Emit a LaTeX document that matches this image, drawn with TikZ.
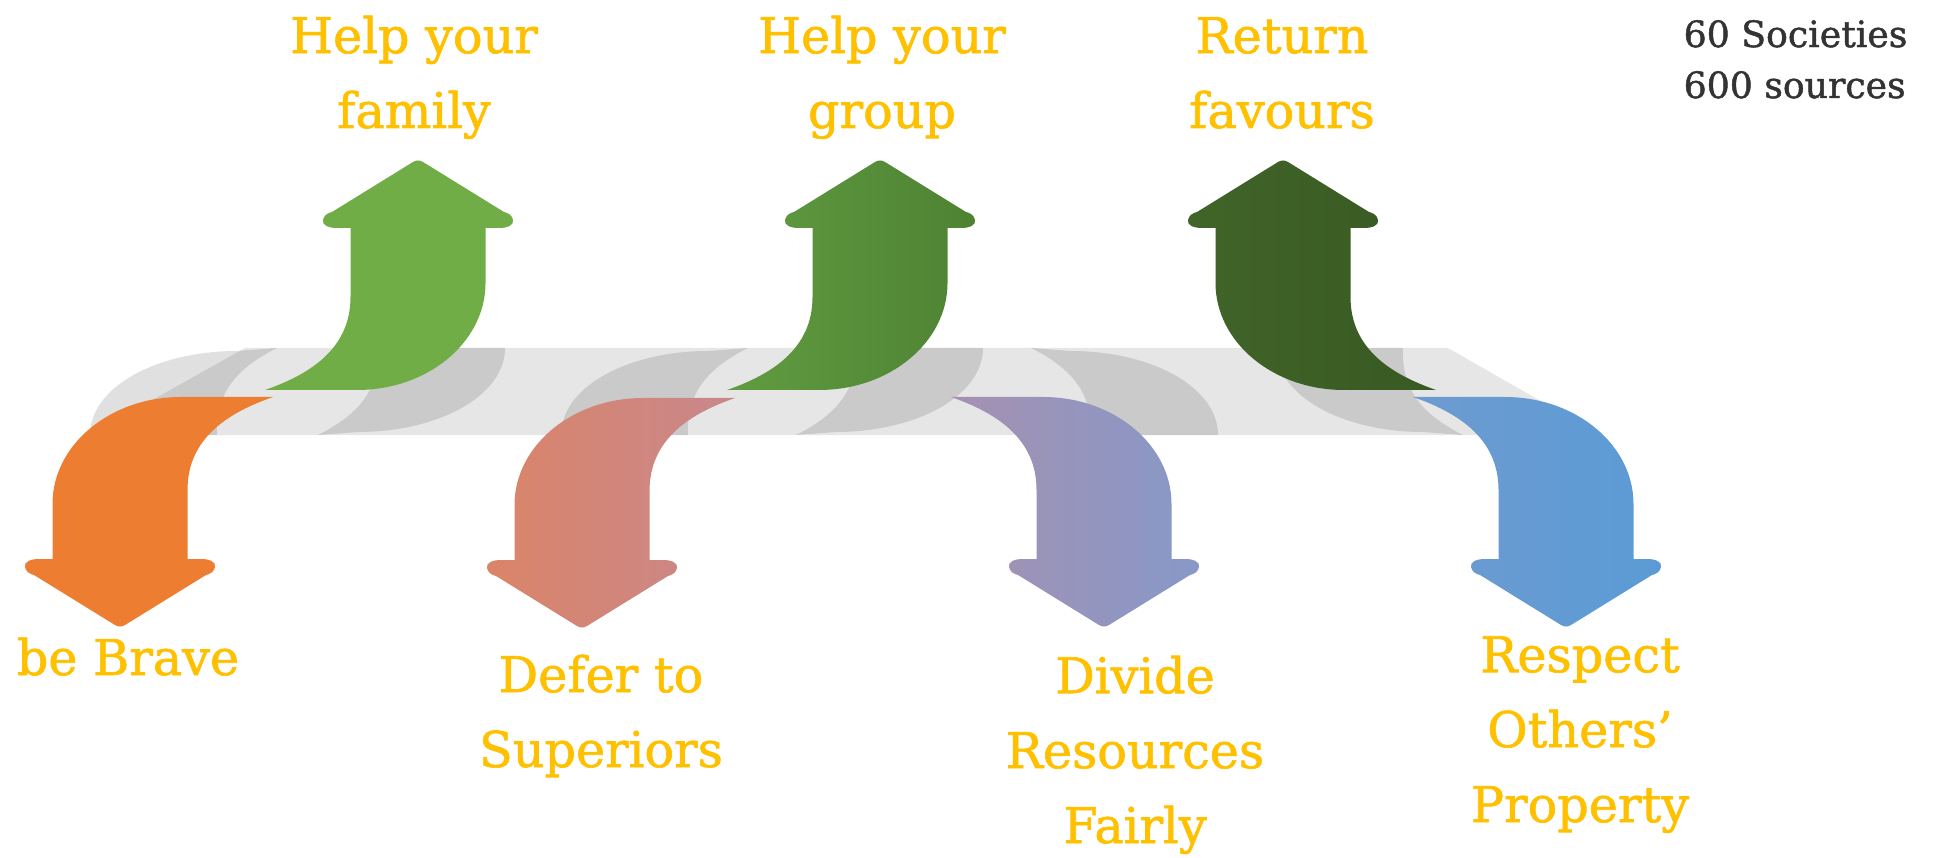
\documentclass[tikz,border=0pt]{standalone}
\usepackage{fontspec}
\setmainfont{DejaVu Serif}
\newfontfamily\moralfont{DejaVu Serif}[BoldFont={DejaVu Serif},BoldFeatures={FakeBold=1.3}]
\usepackage{xcolor}
\usepackage{tikz}

\definecolor{bandgrey}{HTML}{E6E6E6}
\definecolor{textgold}{HTML}{FFC000}
\definecolor{tallygrey}{HTML}{333333}
\definecolor{bravecol}{HTML}{ED7D31}
\definecolor{familycol}{HTML}{70AD47}
\definecolor{deferleft}{HTML}{DB8468}
\definecolor{deferright}{HTML}{C8888C}
\definecolor{groupleft}{HTML}{609C40}
\definecolor{groupright}{HTML}{4E8233}
\definecolor{divideleft}{HTML}{A591B1}
\definecolor{divideright}{HTML}{8798C8}
\definecolor{favleft}{HTML}{416429}
\definecolor{favright}{HTML}{385A23}
\definecolor{respleft}{HTML}{6D9BD0}
\definecolor{respright}{HTML}{5B9BD5}

\tikzset{
  shadow/.style={fill=black,fill opacity=0.12},
  moral/.style={text=textgold,font=\moralfont\bfseries\fontsize{14}{21.3}\selectfont,align=center,inner sep=0pt,anchor=base},
  tally/.style={text=tallygrey,font=\moralfont\bfseries\fontsize{10.3}{14.5}\selectfont,align=left,inner sep=0pt,anchor=base west}
}

\newcommand{\bentarrow}[5]{%
  \path[#5] ({#1-(#3)*153},{#2}) -- ({#1-(#3)*61},{#2})
    .. controls ({#1+(#3)*10},{#2}) and ({#1+(#3)*67.5},{#2-(#4)*48}) .. ({#1+(#3)*67.5},{#2-(#4)*107})
    -- ({#1+(#3)*67.5},{#2-(#4)*162}) -- ({#1+(#3)*81},{#2-(#4)*162})
    .. controls ({#1+(#3)*90},{#2-(#4)*162}) and ({#1+(#3)*96},{#2-(#4)*165}) .. ({#1+(#3)*95},{#2-(#4)*170})
    .. controls ({#1+(#3)*94},{#2-(#4)*175}) and ({#1+(#3)*90},{#2-(#4)*177}) .. ({#1+(#3)*86},{#2-(#4)*178})
    -- ({#1+(#3)*5},{#2-(#4)*228})
    .. controls ({#1+(#3)*2},{#2-(#4)*230}) and ({#1-(#3)*2},{#2-(#4)*230}) .. ({#1-(#3)*5},{#2-(#4)*228})
    -- ({#1-(#3)*86},{#2-(#4)*178})
    .. controls ({#1-(#3)*90},{#2-(#4)*177}) and ({#1-(#3)*94},{#2-(#4)*175}) .. ({#1-(#3)*95},{#2-(#4)*170})
    .. controls ({#1-(#3)*96},{#2-(#4)*165}) and ({#1-(#3)*90},{#2-(#4)*162}) .. ({#1-(#3)*81},{#2-(#4)*162})
    -- ({#1-(#3)*67.5},{#2-(#4)*162}) -- ({#1-(#3)*67.5},{#2-(#4)*93})
    .. controls ({#1-(#3)*67.5},{#2-(#4)*40}) and ({#1-(#3)*110},{#2-(#4)*15}) .. ({#1-(#3)*153},{#2}) -- cycle;}

\newcommand{\tailshadow}[4]{%
  \fill[shadow] (#1,#2) -- ({#1-(#3)*40},{#2+(#4)*3})
    .. controls ({#1-(#3)*120},{#2+(#4)*3}) and ({#1-(#3)*187},{#2+(#4)*39}) .. ({#1-(#3)*187},{#2+(#4)*87})
    -- ({#1-(#3)*60},{#2+(#4)*87})
    .. controls ({#1-(#3)*62},{#2+(#4)*45}) and ({#1-(#3)*40},{#2+(#4)*20}) .. (#1,#2) -- cycle;}

\begin{document}
\begin{tikzpicture}[x=0.01cm,y=-0.01cm]
  \useasboundingbox (0,0) rectangle (1943,858);

  \fill[bandgrey] (245,348) -- (1448,348) -- (1600,435) -- (90,435) -- cycle;

  \begin{scope}
    \clip (0,348) rectangle (1943,435);
    \tailshadow{277}{348}{1}{1}
    \tailshadow{318}{435}{-1}{-1}
    \tailshadow{748}{348}{1}{1}
    \tailshadow{796}{435}{-1}{-1}
    \tailshadow{1031}{348}{-1}{1}
    \tailshadow{1463}{435}{1}{-1}
  \end{scope}

  \bentarrow{120}{397}{-1}{-1}{fill=bravecol}
  \bentarrow{418}{390}{1}{1}{fill=familycol}
  \bentarrow{582}{398}{-1}{-1}{left color=deferleft,right color=deferright}
  \bentarrow{880}{390}{1}{1}{left color=groupleft,right color=groupright}
  \bentarrow{1104}{397}{1}{-1}{left color=divideleft,right color=divideright}
  \bentarrow{1283}{390}{-1}{1}{left color=favleft,right color=favright}
  \bentarrow{1566}{397}{1}{-1}{left color=respleft,right color=respright}

  \node[moral] (family) at (414,128) {Help your\\family};
  \node[moral] (group) at (882,128) {Help your\\group};
  \node[moral] (favours) at (1282,128) {Return\\favours};
  \node[moral] (brave) at (128,675) {be Brave};
  \node[moral] (defer) at (601,767) {Defer to\\Superiors};
  \node[moral] (divide) at (1135,843) {Divide\\Resources\\Fairly};
  \node[moral] (property) at (1580,822) {Respect\\Others’\\Property};
  \node[tally] (sample) at (1683,98) {60 Societies\\600 sources};
\end{tikzpicture}
\end{document}
